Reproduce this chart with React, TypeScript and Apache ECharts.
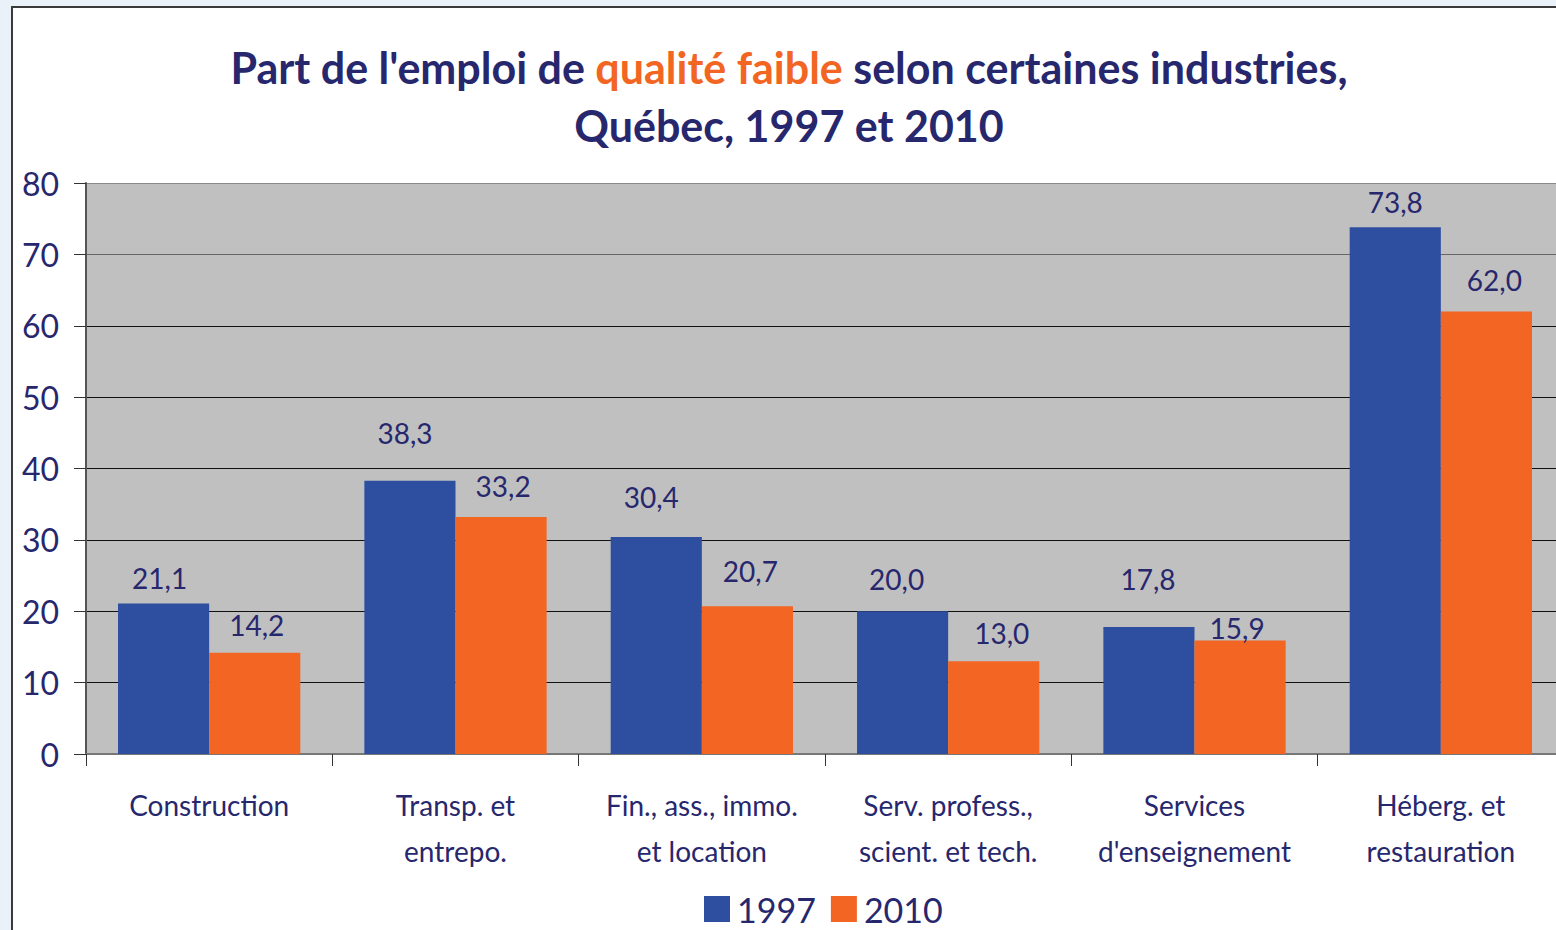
import React, { useEffect, useRef } from "react";
import * as echarts from "echarts";

const categories = [
  "Construction",
  "Transp. et\nentrepo.",
  "Fin., ass., immo.\net location",
  "Serv. profess.,\nscient. et tech.",
  "Services\nd'enseignement",
  "Héberg. et\nrestauration",
];
const values1997 = [21.1, 38.3, 30.4, 20.0, 17.8, 73.8];
const values2010 = [14.2, 33.2, 20.7, 13.0, 15.9, 62.0];
const seriesNames = ["1997", "2010"];
const yTicks = { min: 0, max: 80, interval: 10 };
// hand-placed label nudges [dx, dy] as in the original chart
const labelNudge1997 = [[-4, 0], [-5, -23], [-5, -15], [-6, -7], [-1, -23], [0, 0]];
const labelNudge2010 = [[2, -3], [2, -6], [3, -10], [8, -3], [-3, 12], [8, -6]];

const NAVY = "#27276e";
const BLUE = "#2e4ea0";
const ORANGE = "#f26522";
const FONT = "Lato, 'Noto Sans', sans-serif";
const W = 1572;

const fmt = (v: number) => v.toFixed(1).replace(".", ",");

export default function App() {
  const ref = useRef<HTMLDivElement>(null);
  useEffect(() => {
    if (!ref.current) return;
    const chart = echarts.init(ref.current, null, { renderer: "svg" });
    const label = {
      show: true,
      position: "top",
      distance: 11,
      color: NAVY,
      fontSize: 28,
      fontFamily: FONT,
      formatter: (p: any) => fmt(p.value),
    };
    const mk = (vals: number[], nudges: number[][]) =>
      vals.map((v, i) => ({ value: v, label: { offset: nudges[i] } }));
    chart.setOption({
      animation: false,
      backgroundColor: "#eaf1f9",
      textStyle: { fontFamily: FONT },
      graphic: [
        {
          type: "rect",
          z: -100,
          zlevel: 0,
          shape: { x: 12, y: 7, width: 1700, height: 1100 },
          style: { fill: "#ffffff", stroke: "#3a3a3a", lineWidth: 2 },
        },
      ],
      title: {
        text:
          "{a|Part de l'emploi de }{b|qualité faible}{a| selon certaines industries,}\n{a|Québec, 1997 et 2010}",
        left: 789,
        top: 38,
        textAlign: "center",
        padding: 0,
        textStyle: {
          rich: {
            a: { fontSize: 43, fontWeight: "bold", color: NAVY, fontFamily: FONT, lineHeight: 58 },
            b: { fontSize: 43, fontWeight: "bold", color: ORANGE, fontFamily: FONT, lineHeight: 58 },
          },
        },
      },
      legend: {
        data: seriesNames,
        left: 704,
        top: 892,
        padding: 0,
        itemWidth: 26,
        itemHeight: 26,
        itemGap: 15,
        icon: "rect",
        textStyle: { fontSize: 34, color: NAVY, fontFamily: FONT, padding: [0, 0, 0, 2] },
      },
      grid: {
        left: 86,
        top: 183,
        right: W - 1564,
        bottom: 176,
        show: true,
        backgroundColor: "#c0c0c0",
        borderWidth: 0,
      },
      xAxis: {
        type: "category",
        data: categories,
        axisLine: { show: true, lineStyle: { color: "#777777", width: 2 } },
        axisTick: { show: true, length: 12, lineStyle: { color: "#333333", width: 1 } },
        axisLabel: {
          interval: 0,
          margin: 28,
          fontSize: 28,
          lineHeight: 46,
          color: NAVY,
          fontFamily: FONT,
        },
      },
      yAxis: {
        type: "value",
        min: yTicks.min,
        max: yTicks.max,
        interval: yTicks.interval,
        axisLine: { show: true, lineStyle: { color: "#555555", width: 2 } },
        axisTick: { show: true, length: 12, lineStyle: { color: "#333333", width: 1 } },
        axisLabel: { margin: 27, fontSize: 32, color: NAVY, fontFamily: FONT },
        splitLine: {
          show: true,
          lineStyle: {
            color: ["#777777", "#111111", "#111111", "#111111", "#111111", "#111111", "#111111", "#666666", "#8a8a8a"],
            width: 1,
          },
        },
      },
      series: [
        {
          name: seriesNames[0],
          type: "bar",
          data: mk(values1997, labelNudge1997),
          itemStyle: { color: BLUE },
          barGap: "0%",
          barCategoryGap: "26%",
          label,
        },
        {
          name: seriesNames[1],
          type: "bar",
          data: mk(values2010, labelNudge2010),
          itemStyle: { color: ORANGE },
          barGap: "0%",
          barCategoryGap: "26%",
          label,
        },
      ],
    });
    return () => chart.dispose();
  }, []);
  return (
    <div style={{ position: "fixed", left: 0, top: 0, width: 1556, height: 930, overflow: "hidden" }}>
      <div ref={ref} style={{ width: W, height: 930 }} />
    </div>
  );
}
